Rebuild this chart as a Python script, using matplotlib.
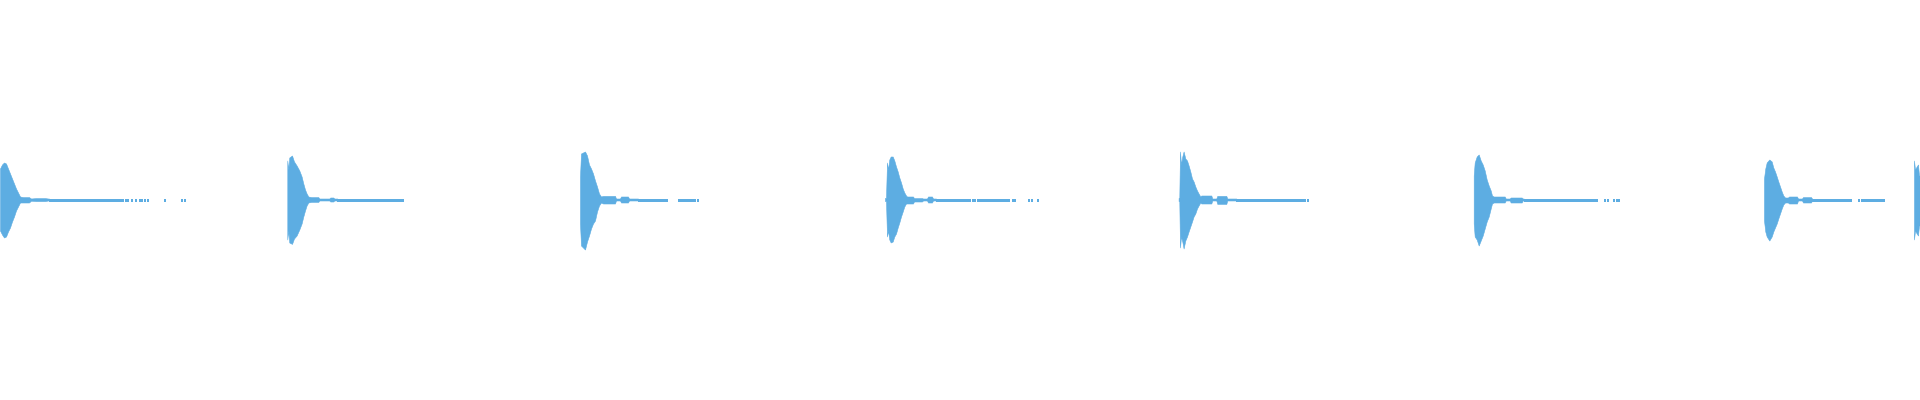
import matplotlib
matplotlib.use("Agg")
import matplotlib.pyplot as plt
import numpy as np

WAVE_COLOR = "#5dade2"

# Burst onsets (seconds)
onsets = [0.000, 2.873, 5.800, 8.860, 11.793, 14.737, 17.640, 19.140]

# Envelope of each burst: time offset (ms from onset), upper peak, lower peak (normalised amplitude)
env_t = [
    [0, 20, 40, 60, 80, 100, 120, 140, 160, 180, 200, 230, 290, 310, 360, 450, 480, 490],
    [0, 10, 20, 47, 67, 93, 120, 143, 160, 177, 193, 210, 240, 310, 320, 420, 430, 460, 470, 500],
    [0, 10, 50, 70, 90, 110, 130, 150, 170, 190, 210, 230, 350, 360, 400, 410, 480, 490, 580],
    [-10, 0, 10, 20, 33, 47, 67, 83, 100, 117, 133, 150, 167, 183, 200, 210, 270, 280, 360, 370, 410, 420, 460, 470, 500],
    [-7, 0, 7, 17, 30, 43, 60, 77, 93, 110, 127, 143, 160, 177, 193, 210, 220, 320, 330, 370, 380, 470, 480, 570],
    [0, 10, 30, 50, 70, 90, 110, 130, 150, 170, 183, 200, 310, 320, 360, 370, 480, 490, 500],
    [0, 13, 27, 53, 77, 93, 110, 127, 143, 160, 177, 193, 210, 240, 250, 330, 340, 380, 390, 470, 480],
    [0, 10, 27, 40, 50, 60],
]
env_hi = [
    [.155, .175, .185, .180, .155, .130, .105, .080, .055, .035, .015, .012, .012, .005, .007, .007, .005, .005],
    [.195, .150, .210, .220, .190, .170, .145, .115, .080, .050, .030, .015, .012, .012, .005, .005, .010, .010, .005, .005],
    [.115, .230, .240, .220, .175, .155, .130, .095, .065, .030, .015, .018, .018, .005, .005, .015, .015, .005, .005],
    [.008, .008, .185, .150, .200, .215, .215, .195, .165, .140, .110, .085, .055, .035, .020, .015, .015, .007, .007, .005, .005, .015, .015, .005, .005],
    [.008, .008, .240, .175, .215, .240, .205, .195, .170, .140, .105, .090, .065, .045, .030, .015, .020, .020, .005, .005, .018, .018, .005, .005],
    [.120, .185, .215, .225, .195, .175, .145, .100, .070, .045, .020, .015, .015, .005, .005, .010, .010, .005, .005],
    [.105, .155, .185, .200, .190, .160, .140, .115, .090, .065, .040, .020, .010, .010, .015, .015, .005, .005, .012, .012, .005],
    [.195, .150, .165, .175, .120, .120],
]
env_lo = [
    [.155, .175, .190, .185, .160, .140, .110, .085, .055, .035, .015, .015, .015, .006, .008, .008, .005, .005],
    [.200, .155, .215, .222, .195, .180, .150, .120, .085, .055, .030, .015, .012, .012, .005, .005, .010, .010, .005, .005],
    [.120, .230, .250, .210, .180, .145, .120, .105, .060, .030, .015, .020, .020, .005, .005, .015, .015, .005, .005],
    [.008, .008, .185, .155, .200, .215, .210, .185, .170, .140, .115, .085, .060, .035, .020, .020, .020, .010, .010, .005, .005, .015, .015, .005, .005],
    [.008, .008, .240, .185, .210, .245, .205, .185, .160, .135, .110, .085, .070, .045, .030, .015, .020, .020, .005, .005, .022, .022, .005, .005],
    [.120, .185, .200, .230, .205, .180, .145, .110, .085, .045, .020, .015, .015, .005, .005, .015, .015, .005, .005],
    [.105, .160, .185, .205, .185, .160, .140, .120, .095, .070, .045, .025, .015, .015, .020, .020, .005, .005, .015, .015, .005],
    [.200, .155, .170, .180, .130, .130],
]

# Low-level tail (noise floor) segments, seconds: (start, end)
tail_segments = [
    (0.49, 1.23),
    (3.373, 3.787), (3.800, 4.027),
    (6.38, 6.667), (6.78, 6.81), (6.823, 6.95),
    (9.36, 9.70), (9.767, 9.787), (9.80, 10.067),
    (12.363, 13.027),
    (15.237, 15.967),
    (18.12, 18.507), (18.627, 18.823),
]
# Isolated single-sample blips (seconds)
tail_dots = [1.253, 1.273, 1.307, 1.353, 1.393, 1.413, 1.443, 1.473, 1.643, 1.813, 1.843,
             6.967,
             9.723, 9.743, 10.083, 10.117, 10.143, 10.283, 10.307, 10.373,
             13.04, 13.073,
             16.04, 16.067, 16.133, 16.157, 16.183,
             18.583, 18.607, 18.833]

fig = plt.figure(figsize=(19.2, 4.0), dpi=100)
ax = fig.add_axes([0, 0, 1, 1])
ax.set_xlim(0, 19.2)
ax.set_ylim(-1.0025, 0.9975)
ax.axis("off")

for on, t, hi, lo in zip(onsets, env_t, env_hi, env_lo):
    x = on + np.asarray(t) / 1000.0
    ax.fill_between(x, np.asarray(hi), -np.asarray(lo), color=WAVE_COLOR, linewidth=0.4,
                    edgecolor=WAVE_COLOR)

for s, e in tail_segments:
    ax.hlines(0, s, e, color=WAVE_COLOR, linewidth=0.75, antialiased=False)
for d in tail_dots:
    ax.hlines(0, d, d + 0.01, color=WAVE_COLOR, linewidth=0.75, antialiased=False)

fig.savefig("out.png", dpi=100, facecolor="white")
